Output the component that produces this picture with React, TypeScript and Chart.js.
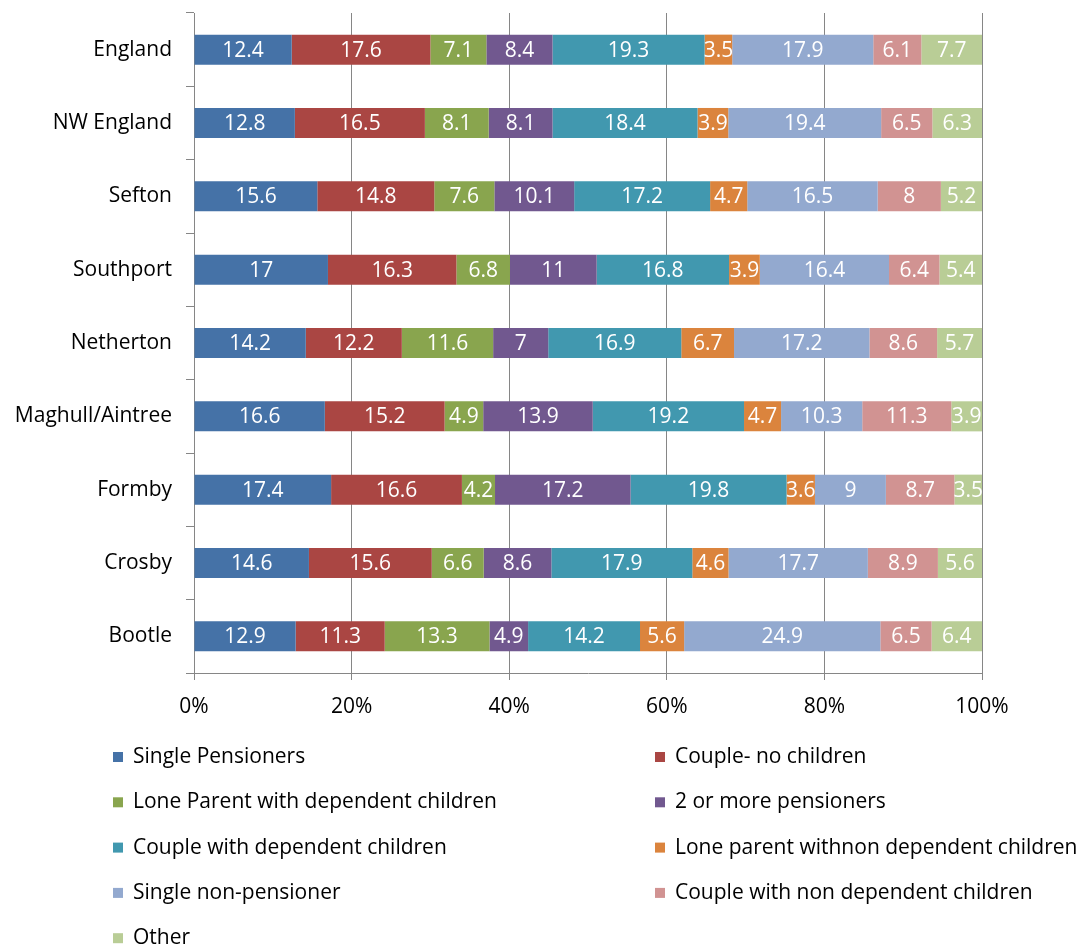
import React, { useEffect, useRef } from "react";
import { Chart, registerables } from "chart.js";

Chart.register(...registerables);

const categories = ["England", "NW England", "Sefton", "Southport", "Netherton", "Maghull/Aintree", "Formby", "Crosby", "Bootle"];

const seriesNames = [
  "Single Pensioners",
  "Couple- no children",
  "Lone Parent with dependent children",
  "2 or more pensioners",
  "Couple with dependent children",
  "Lone parent withnon dependent children",
  "Single non-pensioner",
  "Couple with non dependent children",
  "Other",
];

const seriesColors = ["#4572A7", "#AA4643", "#89A54E", "#71588F", "#4198AF", "#DB843D", "#93A9CF", "#D19392", "#B9CD96"];

const singlePensioners = [12.4, 12.8, 15.6, 17, 14.2, 16.6, 17.4, 14.6, 12.9];
const coupleNoChildren = [17.6, 16.5, 14.8, 16.3, 12.2, 15.2, 16.6, 15.6, 11.3];
const loneParentDependent = [7.1, 8.1, 7.6, 6.8, 11.6, 4.9, 4.2, 6.6, 13.3];
const twoOrMorePensioners = [8.4, 8.1, 10.1, 11, 7, 13.9, 17.2, 8.6, 4.9];
const coupleDependent = [19.3, 18.4, 17.2, 16.8, 16.9, 19.2, 19.8, 17.9, 14.2];
const loneParentNonDependent = [3.5, 3.9, 4.7, 3.9, 6.7, 4.7, 3.6, 4.6, 5.6];
const singleNonPensioner = [17.9, 19.4, 16.5, 16.4, 17.2, 10.3, 9, 17.7, 24.9];
const coupleNonDependent = [6.1, 6.5, 8, 6.4, 8.6, 11.3, 8.7, 8.9, 6.5];
const other = [7.7, 6.3, 5.2, 5.4, 5.7, 3.9, 3.5, 5.6, 6.4];

const xTickLabels = ["0%", "20%", "40%", "60%", "80%", "100%"];

const FONT = "'Open Sans', sans-serif";

export default function App() {
  const ref = useRef<HTMLCanvasElement | null>(null);

  useEffect(() => {
    const raw = [
      singlePensioners,
      coupleNoChildren,
      loneParentDependent,
      twoOrMorePensioners,
      coupleDependent,
      loneParentNonDependent,
      singleNonPensioner,
      coupleNonDependent,
      other,
    ];
    const totals = categories.map((_, i) => raw.reduce((s, arr) => s + arr[i], 0));

    const datasets = raw.map((arr, k) => ({
      label: seriesNames[k],
      data: arr.map((v, i) => (v / totals[i]) * 100),
      rawValues: arr,
      backgroundColor: seriesColors[k],
      borderWidth: 0,
      categoryPercentage: 1,
      barPercentage: 0.41,
    }));

    const labelPlugin = {
      id: "segLabels",
      afterDatasetsDraw(chart: any) {
        const ctx = chart.ctx;
        ctx.save();
        ctx.fillStyle = "#ffffff";
        ctx.font = `21px ${FONT}`;
        ctx.textAlign = "center";
        ctx.textBaseline = "middle";
        chart.data.datasets.forEach((ds: any, di: number) => {
          const meta = chart.getDatasetMeta(di);
          meta.data.forEach((el: any, i: number) => {
            const cx = (el.x + el.base) / 2;
            ctx.fillText(String(ds.rawValues[i]), cx, el.y + 1);
          });
        });
        ctx.restore();
      },
    };

    const legendPlugin = {
      id: "customLegend",
      afterDraw(chart: any) {
        const ctx = chart.ctx;
        const area = chart.chartArea;
        ctx.save();
        ctx.font = `21px ${FONT}`;
        ctx.textBaseline = "middle";
        ctx.textAlign = "left";
        const rowH = 45.3;
        const top = area.bottom + 84;
        const cols = [113, 655];
        chart.data.datasets.forEach((ds: any, i: number) => {
          const col = i % 2;
          const row = Math.floor(i / 2);
          const y = top + row * rowH;
          const x = cols[col];
          ctx.fillStyle = ds.backgroundColor;
          ctx.fillRect(x, y - 5, 10, 10);
          ctx.fillStyle = "#000000";
          ctx.fillText(ds.label, x + 20, y);
        });
        ctx.restore();
      },
    };

    const chart = new Chart(ref.current as HTMLCanvasElement, {
      type: "bar",
      data: { labels: categories, datasets: datasets as any },
      options: {
        indexAxis: "y",
        responsive: false,
        animation: false,
        layout: { padding: { top: 13, right: 99, left: 0, bottom: 0 } },
        plugins: { legend: { display: false }, tooltip: { enabled: false } },
        scales: {
          x: {
            stacked: true,
            min: 0,
            max: 100,
            afterFit(scale: any) {
              scale.height = 272;
            },
            afterBuildTicks(scale: any) {
              scale.ticks = xTickLabels.map((_, i) => ({ value: i * 20 }));
            },
            ticks: {
              callback: (_v: any, i: number) => xTickLabels[i],
              color: "#000000",
              font: { family: FONT, size: 21 },
              padding: 14,
              maxRotation: 0,
            },
            grid: { color: "#868686", lineWidth: 1, tickLength: 7, drawTicks: true },
            border: { display: true, color: "#868686", width: 1 },
          },
          y: {
            stacked: true,
            afterFit(scale: any) {
              scale.width = 194;
              scale.paddingTop = 0;
              scale.paddingBottom = 0;
            },
            ticks: {
              color: "#000000",
              font: { family: FONT, size: 21 },
              padding: 14,
            },
            grid: { offset: true, drawOnChartArea: false, color: "#868686", tickLength: 8 },
            border: { display: true, color: "#868686", width: 1 },
          },
        },
      },
      plugins: [labelPlugin, legendPlugin],
    });

    return () => chart.destroy();
  }, []);

  return (
    <div style={{ position: "absolute", left: 0, top: 0, width: 1081, height: 945, background: "#fff" }}>
      <canvas ref={ref} width={1081} height={945} style={{ display: "block" }} />
    </div>
  );
}
